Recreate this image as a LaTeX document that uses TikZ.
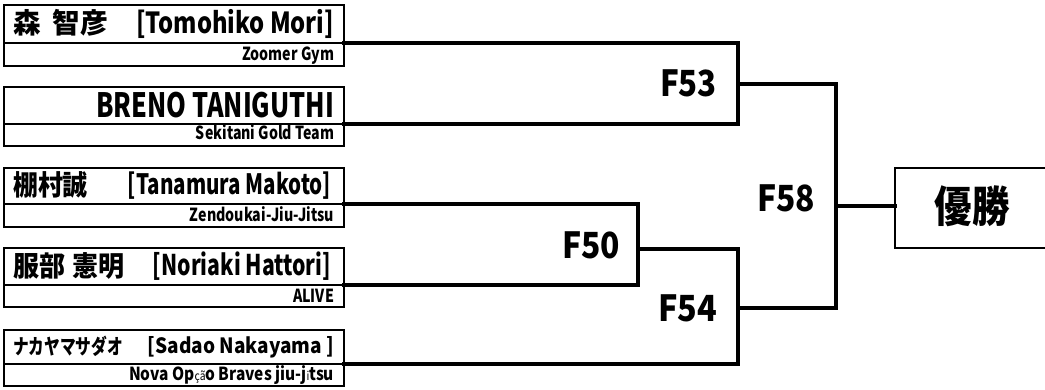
\documentclass[tikz,border=0pt]{standalone}
\usepackage{fontspec}
\setmainfont{Noto Sans CJK JP}
\usepackage{graphicx}
\newcommand{\fitw}[3]{\resizebox{#1}{\height}{\fontsize{#2}{#2}\selectfont\bfseries #3}}
\newcommand{\thinpart}[1]{{\mdseries\fontsize{12pt}{12pt}\selectfont #1}}
\tikzset{
  boxpart/.style={draw,line width=2pt,rectangle,inner sep=0pt,outer sep=0pt,minimum width=340pt,anchor=north west},
  txt/.style={inner sep=0pt,outer sep=0pt},
  bracket/.style={line width=4.5pt,line join=miter,line cap=rect},
}
\begin{document}
\begin{tikzpicture}[x=1pt,y=-1pt]
\useasboundingbox (0,0) rectangle (1045,389);
\fill[white] (0,0) rectangle (1045,389);
% player boxes
\node[boxpart,minimum height=38pt] (p1n) at (4,5) {};
\node[boxpart,minimum height=23pt] (p1c) at (p1n.south west) {};
\node[boxpart,minimum height=37pt] (p2n) at (4,87) {};
\node[boxpart,minimum height=22pt] (p2c) at (p2n.south west) {};
\node[boxpart,minimum height=36pt] (p3n) at (4,168) {};
\node[boxpart,minimum height=23pt] (p3c) at (p3n.south west) {};
\node[boxpart,minimum height=37pt] (p4n) at (4,248) {};
\node[boxpart,minimum height=22pt] (p4c) at (p4n.south west) {};
\node[boxpart,minimum height=34pt] (p5n) at (4,330) {};
\node[boxpart,minimum height=22pt] (p5c) at (p5n.south west) {};
% names
\node[txt,anchor=west] (p1j) at (13,23) {\fitw{95pt}{28pt}{森 \hspace{6pt}智彦}};
\node[txt,anchor=east] (p1l) at (334,24) {\fitw{198pt}{29pt}{[Tomohiko Mori]}};
\node[txt,anchor=east] (p2l) at (334,105) {\fitw{238pt}{33.5pt}{BRENO TANIGUTHI}};
\node[txt,anchor=west] (p3j) at (13,185) {\fitw{75pt}{28pt}{棚村誠}};
\node[txt,anchor=east] (p3l) at (331,186) {\fitw{203pt}{28pt}{[Tanamura Makoto]}};
\node[txt,anchor=west] (p4j) at (13,266) {\fitw{112pt}{28pt}{服部 \hspace{2pt}憲明}};
\node[txt,anchor=east] (p4l) at (331,266.5) {\fitw{178pt}{28.5pt}{[Noriaki Hattori]}};
\node[txt,anchor=west] (p5j) at (13,346) {\fitw{110pt}{21pt}{ナカヤマサダオ}};
\node[txt,anchor=east] (p5l) at (334,347) {\fitw{186pt}{21pt}{[Sadao Nakayama ]}};
% clubs
\node[txt,anchor=base east] (p1k) at (334,60) {\fitw{92pt}{18pt}{Zoomer Gym}};
\node[txt,anchor=base east] (p2k) at (334,139) {\fitw{138pt}{18pt}{Sekitani Gold Team}};
\node[txt,anchor=base east] (p3k) at (334,221) {\fitw{144pt}{18pt}{Zendoukai-Jiu-Jitsu}};
\node[txt,anchor=base east] (p4k) at (334,302) {\fitw{41pt}{18pt}{ALIVE}};
\node[txt,anchor=base east] (p5k) at (334,380) {\fitw{205pt}{18pt}{Nova Op\thinpart{çã}o Braves jiu-j\thinpart{i}tsu}};
% winner box
\node[draw,line width=2.5pt,rectangle,inner sep=0pt,outer sep=0pt,minimum width=300pt,minimum height=80pt,anchor=north west] (win) at (895,168) {};
\node[txt] (wint) at (972,206.5) {\fitw{75pt}{43pt}{優勝}};
% match junctions
\coordinate (m53) at (738,84);
\coordinate (m50) at (638,249);
\coordinate (m54) at (738,308);
\coordinate (m58) at (836,206);
\draw[bracket] (p1c.north east) -| (m53);
\draw[bracket] (p2c.north east) -| (m53);
\draw[bracket] (p3c.north east) -| (m50);
\draw[bracket] (p4c.north east) -| (m50);
\draw[bracket] (m50) -| (m54);
\draw[bracket] (p5c.north east) -| (m54);
\draw[bracket] (m53) -| (m58);
\draw[bracket] (m54) -| (m58);
\draw[bracket] (m58) -- (m58 -| win.west);
% match labels
\node[txt,anchor=east] (f53) at (717,83) {\fitw{57pt}{36pt}{F53}};
\node[txt,anchor=east] (f50) at (620,245) {\fitw{58pt}{36pt}{F50}};
\node[txt,anchor=east] (f54) at (717,308) {\fitw{59pt}{36pt}{F54}};
\node[txt,anchor=east] (f58) at (815,198) {\fitw{58pt}{36pt}{F58}};
\end{tikzpicture}
\end{document}
